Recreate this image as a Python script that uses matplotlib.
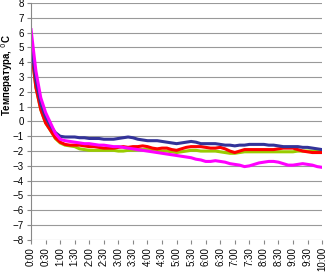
import numpy as np
import matplotlib
matplotlib.use("Agg")
import matplotlib.pyplot as plt

plt.rcParams['font.family'] = ['Liberation Sans', 'DejaVu Sans']

# time in minutes, every 10 min from 0:00 to 10:00
minutes = np.arange(0, 601, 10)

blue = [5.3, 2.8, 1.2, 0.3, -0.3, -0.75, -1.0, -1.05, -1.05, -1.05, -1.1, -1.1,
        -1.15, -1.15, -1.15, -1.2, -1.2, -1.2, -1.15, -1.1, -1.05, -1.1, -1.2, -1.25,
        -1.3, -1.3, -1.3, -1.35, -1.4, -1.45, -1.5, -1.45, -1.4, -1.35, -1.4, -1.5,
        -1.5, -1.5, -1.5, -1.55, -1.6, -1.6, -1.65, -1.6, -1.6, -1.55, -1.55, -1.55,
        -1.55, -1.6, -1.6, -1.65, -1.7, -1.7, -1.7, -1.7, -1.75, -1.75, -1.8, -1.85, -1.9]
red = [5.0, 2.3, 0.8, -0.1, -0.6, -1.1, -1.4, -1.55, -1.6, -1.6, -1.6, -1.65,
       -1.7, -1.7, -1.75, -1.8, -1.8, -1.8, -1.75, -1.7, -1.75, -1.7, -1.7, -1.65,
       -1.7, -1.8, -1.85, -1.8, -1.8, -1.9, -1.95, -1.85, -1.75, -1.7, -1.7, -1.7,
       -1.75, -1.8, -1.8, -1.75, -1.85, -2.0, -2.1, -2.0, -1.9, -1.9, -1.9, -1.9,
       -1.9, -1.9, -1.9, -1.85, -1.8, -1.8, -1.8, -1.9, -2.0, -2.05, -2.1, -2.1, -2.1]
green = [5.0, 2.3, 0.8, -0.1, -0.6, -1.15, -1.45, -1.6, -1.65, -1.7, -1.85, -1.9,
         -1.95, -1.95, -1.95, -1.95, -1.95, -1.95, -2.0, -2.0, -1.95, -1.95, -1.9, -1.9,
         -1.9, -1.9, -1.95, -2.0, -2.0, -2.05, -2.1, -2.05, -2.0, -1.95, -1.95, -2.0,
         -2.0, -2.0, -2.0, -2.05, -2.1, -2.15, -2.15, -2.1, -2.05, -2.05, -2.05, -2.05,
         -2.05, -2.05, -2.05, -2.05, -2.05, -2.05, -2.05, -2.0, -2.0, -2.0, -2.0, -2.0, -2.0]
magenta = [6.2, 3.4, 1.6, 0.6, -0.1, -0.8, -1.2, -1.3, -1.35, -1.4, -1.45, -1.5,
           -1.5, -1.55, -1.6, -1.6, -1.65, -1.7, -1.7, -1.75, -1.8, -1.85, -1.9, -1.95,
           -2.0, -2.05, -2.1, -2.15, -2.2, -2.25, -2.3, -2.35, -2.4, -2.45, -2.55, -2.6,
           -2.7, -2.7, -2.65, -2.7, -2.75, -2.85, -2.9, -2.95, -3.05, -3.0, -2.9, -2.8,
           -2.75, -2.7, -2.7, -2.75, -2.85, -2.95, -2.95, -2.9, -2.85, -2.9, -2.95, -3.05, -3.1]

tick_min = np.arange(0, 601, 30)
tick_labels = ["%d:%02d" % (m // 60, m % 60) for m in tick_min]

fig = plt.figure(figsize=(3.27, 2.72), dpi=100)
ax = fig.add_axes([0.095, 0.118, 0.89, 0.871])

ax.plot(minutes, green, color="#99cc00", lw=2.2)
ax.plot(minutes, red, color="#ff0000", lw=2.2)
ax.plot(minutes, blue, color="#333399", lw=2.2)
ax.plot(minutes, magenta, color="#ff00ff", lw=2.2)

ax.set_xlim(0, 600)
ax.set_ylim(-8, 8)
ax.set_yticks(range(-8, 9))
ax.set_xticks(tick_min)
ax.set_xticklabels(tick_labels, rotation=90)
ax.set_xticks(np.arange(0, 601, 60), minor=True)
ax.tick_params(axis='x', which='minor', length=0)
ax.tick_params(axis='both', labelsize=7, length=3, color="#888888", pad=2)
ax.grid(axis='y', color="#999999", lw=0.8)
ax.grid(axis='x', which='minor', color="#999999", lw=0.8)
ax.set_axisbelow(True)
for s in ["top", "right", "bottom"]:
    ax.spines[s].set_visible(False)
ax.spines["left"].set_color("#888888")

fig.text(0.022, 0.724, "Температура, $^0$С", fontsize=7, fontweight="bold",
         rotation=90, ha="center", va="center")

fig.savefig("out.png", dpi=100)
